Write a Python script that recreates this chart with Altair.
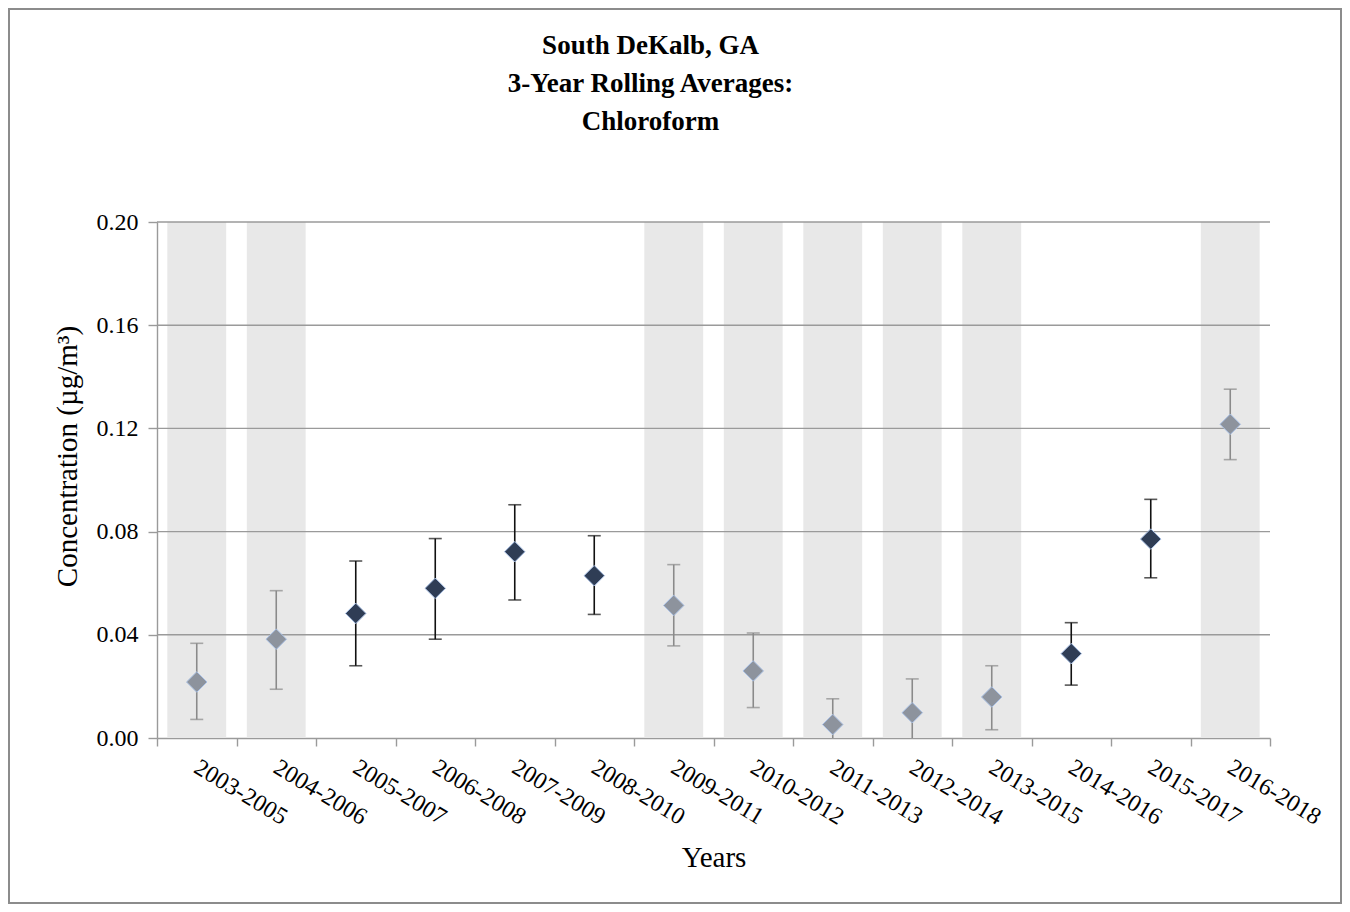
import altair as alt
import pandas as pd

# 3-year rolling average chloroform concentrations (µg/m³), South DeKalb, GA
periods = ["2003-2005", "2004-2006", "2005-2007", "2006-2008", "2007-2009",
           "2008-2010", "2009-2011", "2010-2012", "2011-2013", "2012-2014",
           "2013-2015", "2014-2016", "2015-2017", "2016-2018"]
means = [0.0217, 0.0383, 0.0483, 0.0580, 0.0722, 0.0629, 0.0514,
         0.0260, 0.0052, 0.0098, 0.0159, 0.0327, 0.0771, 0.1216]
lower = [0.0072, 0.0189, 0.0280, 0.0383, 0.0535, 0.0479, 0.0357,
         0.0118, -0.0050, -0.0030, 0.0032, 0.0205, 0.0621, 0.1079]
upper = [0.0367, 0.0571, 0.0686, 0.0773, 0.0904, 0.0784, 0.0672,
         0.0407, 0.0152, 0.0229, 0.0280, 0.0447, 0.0925, 0.1352]
# shaded periods (lighter markers)
shaded = [True, True, False, False, False, False, True,
          True, True, True, True, False, False, True]
y_ticks = [0.0, 0.04, 0.08, 0.12, 0.16, 0.20]

df = pd.DataFrame({"period": periods, "mean": means, "lo": lower,
                   "hi": upper, "shaded": shaded})

FONT = "Liberation Serif"
NAVY, GREY = "#2f3d55", "#8d939d"

xscale = alt.Scale(paddingInner=0, paddingOuter=0)
yscale = alt.Scale(domain=[y_ticks[0], y_ticks[-1]], nice=False)

# same axis objects on every layer so the layer merges them
xaxis = alt.Axis(
    title="Years", tickBand="extent", labelAngle=31, labelAlign="left",
    labelBaseline="top", labelPadding=9, labelOffset=5, tickSize=8, titlePadding=14,
    labelFontSize=24, titleFontSize=29, titleFontWeight="normal")
yaxis = alt.Axis(
    title="Concentration (µg/m³)", values=y_ticks, format=".2f",
    tickSize=9, labelPadding=10, titlePadding=14, titleY=234,
    labelFontSize=24, titleFontSize=29, titleFontWeight="normal")
x_enc = alt.X("period:N", sort=periods, scale=xscale, axis=xaxis)

bands = alt.Chart(df).transform_filter(alt.datum.shaded).mark_bar(
    color="#e8e8e8", width=alt.RelativeBandSize(0.74), opacity=1
).encode(
    x=x_enc,
    y=alt.YDatum(y_ticks[-1], scale=yscale, axis=yaxis),
    y2=alt.Y2Datum(y_ticks[0]),
)

grid = alt.Chart(pd.DataFrame({"v": y_ticks[1:]})).mark_rule(
    color="#9a9a9a", strokeWidth=1.4
).encode(y=alt.Y("v:Q", scale=yscale, axis=yaxis))

bars = alt.Chart(df).mark_errorbar(ticks=True, size=13, thickness=1.6, clip=True).encode(
    x=x_enc,
    y=alt.Y("lo:Q", scale=yscale, axis=yaxis),
    y2="hi:Q",
    color=alt.condition(alt.datum.shaded, alt.value("#8a8a8a"), alt.value("#111111")),
)

points = alt.Chart(df).mark_point(
    shape="diamond", filled=True, size=420, opacity=1,
    stroke="#a9c0e4", strokeWidth=1
).encode(
    x=x_enc,
    y=alt.Y("mean:Q", scale=yscale, axis=yaxis),
    color=alt.condition(alt.datum.shaded, alt.value(GREY), alt.value(NAVY)),
)

# outer border of the chart area
frame = alt.Chart(pd.DataFrame({"f": [0]})).mark_rect(
    fill=None, stroke="#8c8c8c", strokeWidth=2
).encode(x=alt.value(-148), x2=alt.value(1184), y=alt.value(-213), y2=alt.value(681))

chart = alt.layer(bands, grid, bars, points, frame).properties(
    width=1113, height=516,
    autosize=alt.AutoSizeParams(type="none"),
    padding={"left": 149, "top": 214, "right": 72, "bottom": 166},
    title=alt.TitleParams(
        ["South DeKalb, GA", "3-Year Rolling Averages:", "Chloroform"],
        fontSize=27, font=FONT, fontWeight="bold", color="black",
        lineHeight=38, offset=-128, anchor="middle", frame="group", dx=-63),
).configure_view(stroke=None).configure_axis(
    labelFont=FONT, titleFont=FONT, labelColor="black", titleColor="black",
    domainColor="#9a9a9a", tickColor="#9a9a9a", domainWidth=1.4, tickWidth=1.4,
    grid=False,
)

chart.save("out.html", embed_options={"renderer": "svg", "actions": False})
